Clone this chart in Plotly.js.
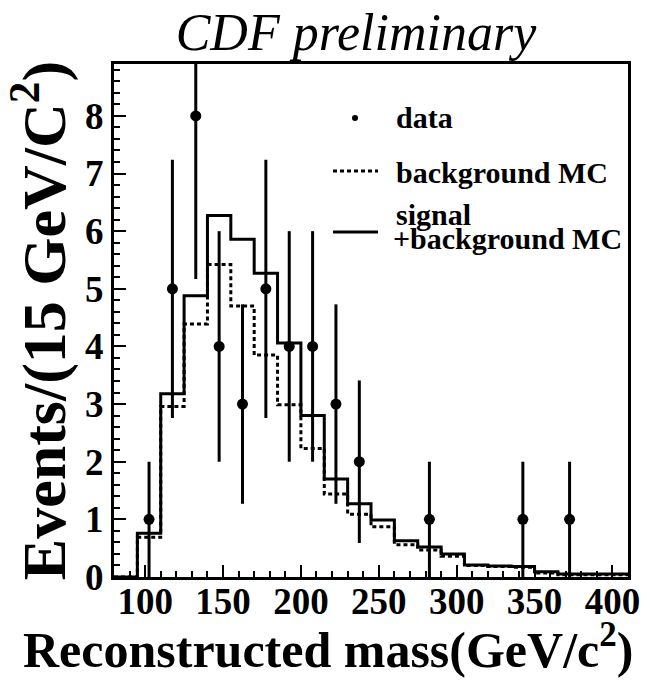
<!DOCTYPE html>
<html>
<head>
<meta charset="utf-8">
<script src="https://cdn.plot.ly/plotly-3.0.1.min.js"></script>
<style>html,body{margin:0;padding:0;background:#fff;}#chart{width:646px;height:681px;}</style>
</head>
<body>
<div id="chart"></div>
<script>
// Bin edges (GeV/c^2), 15 GeV bins
const binEdges = [80,95,110,125,140,155,170,185,200,215,230,245,260,275,290,305,320,335,350,365,380,395,410];
// Signal + background MC (per bin)
const signalPlusBkg = [0,0.76,3.18,4.88,6.27,5.86,5.27,4.06,2.8,1.7,1.27,0.99,0.63,0.52,0.4,0.21,0.19,0.18,0.09,0.05,0.05,0.05];
// Background MC (per bin)
const backgroundMC = [0,0.69,2.96,4.39,5.42,4.7,3.85,2.99,2.23,1.44,1.09,0.87,0.56,0.47,0.36,0.2,0.18,0.17,0.07,0.04,0.04,0.04];
// Data points
const dataMass = [102.5,117.5,132.5,147.5,162.5,177.5,192.5,207.5,222.5,237.5,282.5,342.5,372.5];
const dataCounts = [1,5,8,4,3,5,4,4,3,2,1,1,1];
const dataErrors = [1,2.24,2.83,2,1.73,2.24,2,2,1.73,1.41,1,1,1];
const xTickVals = [100,150,200,250,300,350,400];
const yTickVals = [0,1,2,3,4,5,6,7,8];

const FONT = 'Liberation Serif';

function stepY(v){ return v.concat([v[v.length-1]]); }

const traces = [
  {
    x: binEdges, y: stepY(backgroundMC), type: 'scatter', mode: 'lines',
    line: {shape: 'hv', color: '#000', width: 3, dash: '4px,3px'},
    name: 'background MC', showlegend: false, hoverinfo: 'skip'
  },
  {
    x: binEdges, y: stepY(signalPlusBkg), type: 'scatter', mode: 'lines',
    line: {shape: 'hv', color: '#000', width: 3},
    name: 'signal+background MC', showlegend: false, hoverinfo: 'skip'
  },
  {
    x: dataMass, y: dataCounts, type: 'scatter', mode: 'markers',
    marker: {color: '#000', size: 11, symbol: 'circle'},
    error_y: {type: 'data', array: dataErrors, visible: true, color: '#000', thickness: 3, width: 0},
    name: 'data', showlegend: false
  }
];

const px = x => (x - 114) / 514;
const py = y => (577 - y) / 513;

const layout = {
  width: 646, height: 681,
  margin: {l: 114, r: 18, t: 64, b: 104},
  paper_bgcolor: '#fff', plot_bgcolor: '#fff',
  showlegend: false,
  font: {family: FONT, color: '#000'},
  title: {
    text: '<i>CDF preliminary</i>',
    font: {family: FONT, size: 52, color: '#000'},
    x: px(356), xref: 'paper', xanchor: 'center',
    y: 1 - 32/681, yref: 'container', yanchor: 'middle'
  },
  xaxis: {
    range: [80, 410],
    tickvals: xTickVals, ticktext: xTickVals.map(String),
    ticks: 'inside', ticklen: 12, tickwidth: 2, tickcolor: '#000',
    minor: {dtick: 10, ticks: 'inside', ticklen: 6, tickwidth: 2, tickcolor: '#000'},
    showline: true, linewidth: 3, linecolor: '#000', mirror: true,
    showgrid: false, zeroline: false,
    tickfont: {family: FONT, size: 37, color: '#000', weight: 'bold'},
    ticklabelstandoff: -10
  },
  yaxis: {
    range: [0, 8.9],
    tickvals: yTickVals, ticktext: yTickVals.map(String),
    ticks: 'inside', ticklen: 12, tickwidth: 2, tickcolor: '#000',
    minor: {dtick: 0.2, ticks: 'inside', ticklen: 6, tickwidth: 2, tickcolor: '#000'},
    showline: true, linewidth: 3, linecolor: '#000', mirror: true,
    showgrid: false, zeroline: false,
    tickfont: {family: FONT, size: 37, color: '#000', weight: 'bold'},
    title: {text: 'Events/(15 GeV/C<sup>2</sup>)', font: {family: FONT, size: 62, color: '#000', weight: 'bold'}, standoff: 8}
  },
  shapes: [
    {type: 'line', xref: 'paper', yref: 'paper', x0: px(333), x1: px(378), y0: py(171), y1: py(171),
     line: {color: '#000', width: 3, dash: '4px,3px'}},
    {type: 'line', xref: 'paper', yref: 'paper', x0: px(333), x1: px(378), y0: py(232), y1: py(232),
     line: {color: '#000', width: 3}},
    {type: 'circle', xref: 'paper', yref: 'paper', x0: px(352), x1: px(358), y0: py(115), y1: py(121),
     fillcolor: '#000', line: {color: '#000', width: 0}}
  ],
  annotations: [
    {text: '<b>data</b>', xref: 'paper', yref: 'paper', x: px(394), y: py(117), xanchor: 'left', yanchor: 'middle',
     showarrow: false, font: {family: FONT, size: 30, color: '#000'}},
    {text: '<b>background MC</b>', xref: 'paper', yref: 'paper', x: px(394), y: py(172), xanchor: 'left', yanchor: 'middle',
     showarrow: false, font: {family: FONT, size: 30, color: '#000'}},
    {text: '<b>signal</b>', xref: 'paper', yref: 'paper', x: px(394), y: py(214), xanchor: 'left', yanchor: 'middle',
     showarrow: false, font: {family: FONT, size: 30, color: '#000'}},
    {text: '<b>+background MC</b>', xref: 'paper', yref: 'paper', x: px(391), y: py(238), xanchor: 'left', yanchor: 'middle',
     showarrow: false, font: {family: FONT, size: 30, color: '#000'}},
    {text: '<b>Reconstructed mass(GeV/c<sup>2</sup>)</b>', xref: 'paper', yref: 'paper', x: px(328), y: py(647), xanchor: 'center', yanchor: 'middle',
     showarrow: false, font: {family: FONT, size: 50, color: '#000'}}
  ]
};

Plotly.newPlot('chart', traces, layout, {displayModeBar: false, staticPlot: true});
</script>
</body>
</html>
